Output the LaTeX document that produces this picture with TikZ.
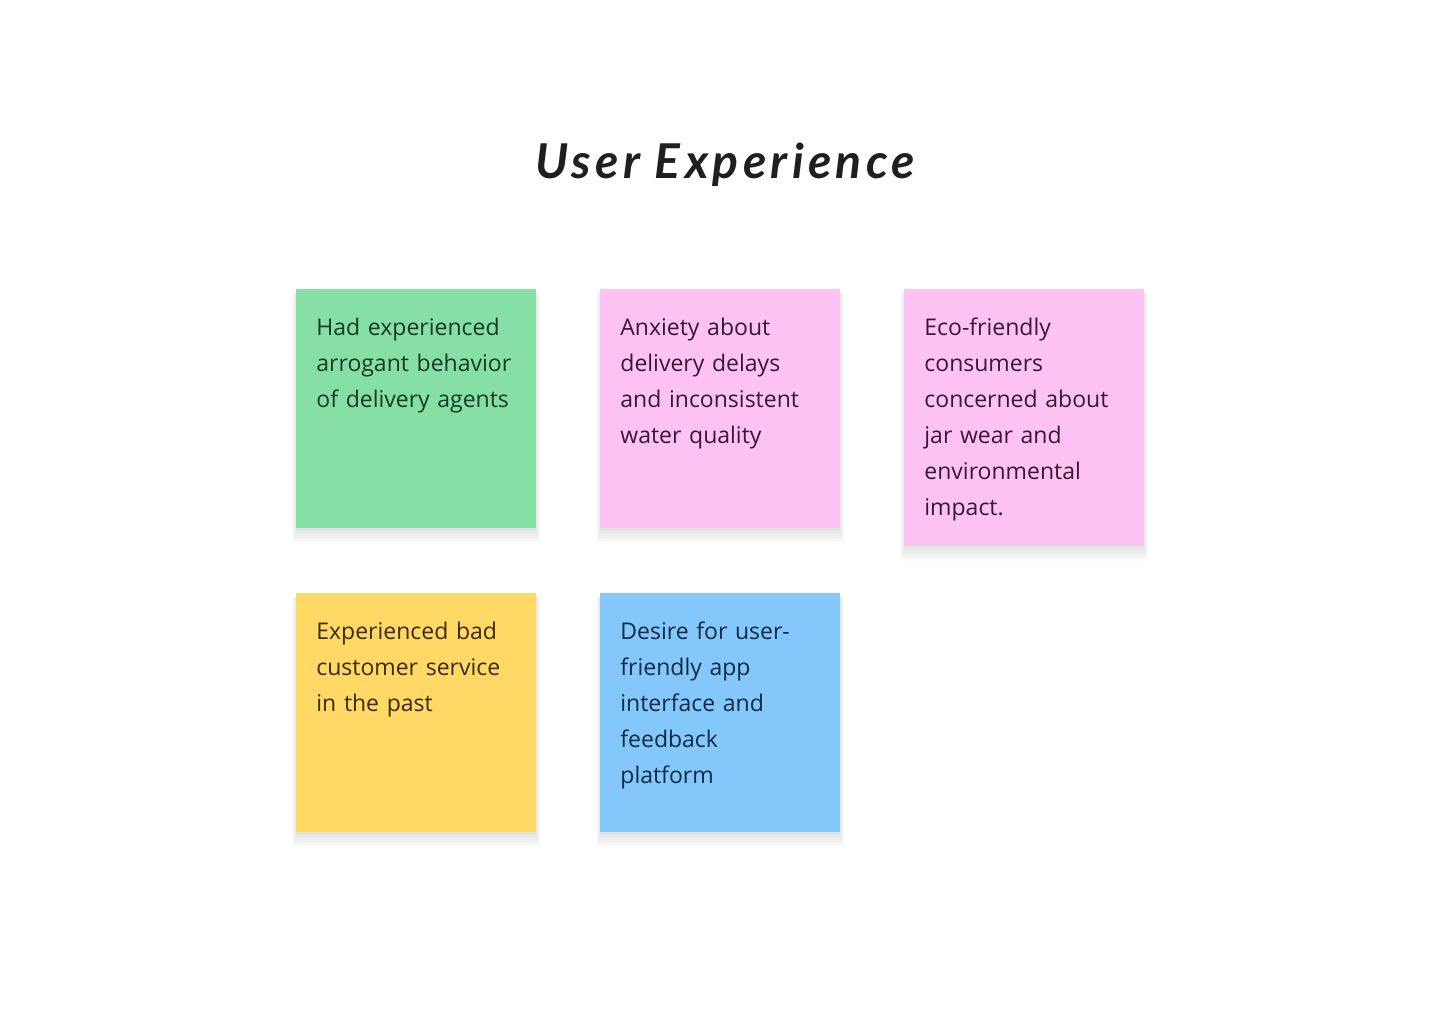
\documentclass[tikz,border=0pt]{standalone}
\usepackage{fontspec}
\setmainfont{Open Sans}
\newfontfamily\titlefont{Lato}[LetterSpace=9]
\definecolor{gfill}{HTML}{86DFA5}
\definecolor{gtext}{HTML}{173A22}
\definecolor{pfill}{HTML}{FCC2F1}
\definecolor{ptext}{HTML}{3A1737}
\definecolor{yfill}{HTML}{FFD866}
\definecolor{ytext}{HTML}{3A2C08}
\definecolor{bfill}{HTML}{83C7FB}
\definecolor{btext}{HTML}{0E2A45}
\tikzset{
  notetext/.style={anchor=north west, inner sep=0pt, align=left, text width=220pt,
    font=\fontsize{11.5}{18}\selectfont},
}
\newcommand{\stickynote}[8]{%
  % #1 name, #2 x1, #3 y1, #4 x2, #5 y2, #6 fill, #7 text colour, #8 text
  \foreach \k in {1,...,10}{
    \fill[black, opacity=0.012] (#2-\k*0.5+1, #3+4) rectangle (#4+\k*0.5-1, #5+\k*1.6);
  }
  \fill[#6] (#2,#3) rectangle (#4,#5);
  \coordinate (#1-nw) at (#2,#3);
  \coordinate (#1-se) at (#4,#5);
  \node[notetext, text=#7] (#1) at (#2+20,#3+21) {\strut #8};
}
\begin{document}
\begin{tikzpicture}[x=0.5pt,y=-0.5pt]
\useasboundingbox[fill=white] (0,0) rectangle (1440,1024);
\node[anchor=base, inner sep=0pt, text=black!88] (title) at (725,178)
  {\titlefont\itshape\bfseries\fontsize{24}{28}\selectfont User Experience};
\stickynote{n1}{296}{289}{536}{528}{gfill}{gtext}{Had experienced\\arrogant behavior\\of delivery agents}
\stickynote{n2}{600}{289}{840}{528}{pfill}{ptext}{Anxiety about\\delivery delays\\and inconsistent\\water quality}
\stickynote{n3}{904}{289}{1144}{545}{pfill}{ptext}{Eco-friendly\\consumers\\concerned about\\jar wear and\\environmental\\impact.}
\stickynote{n4}{296}{593}{536}{832}{yfill}{ytext}{Experienced bad\\customer service\\in the past}
\stickynote{n5}{600}{593}{840}{832}{bfill}{btext}{Desire for user-\\friendly app\\interface and\\feedback\\platform}
\end{tikzpicture}
\end{document}
